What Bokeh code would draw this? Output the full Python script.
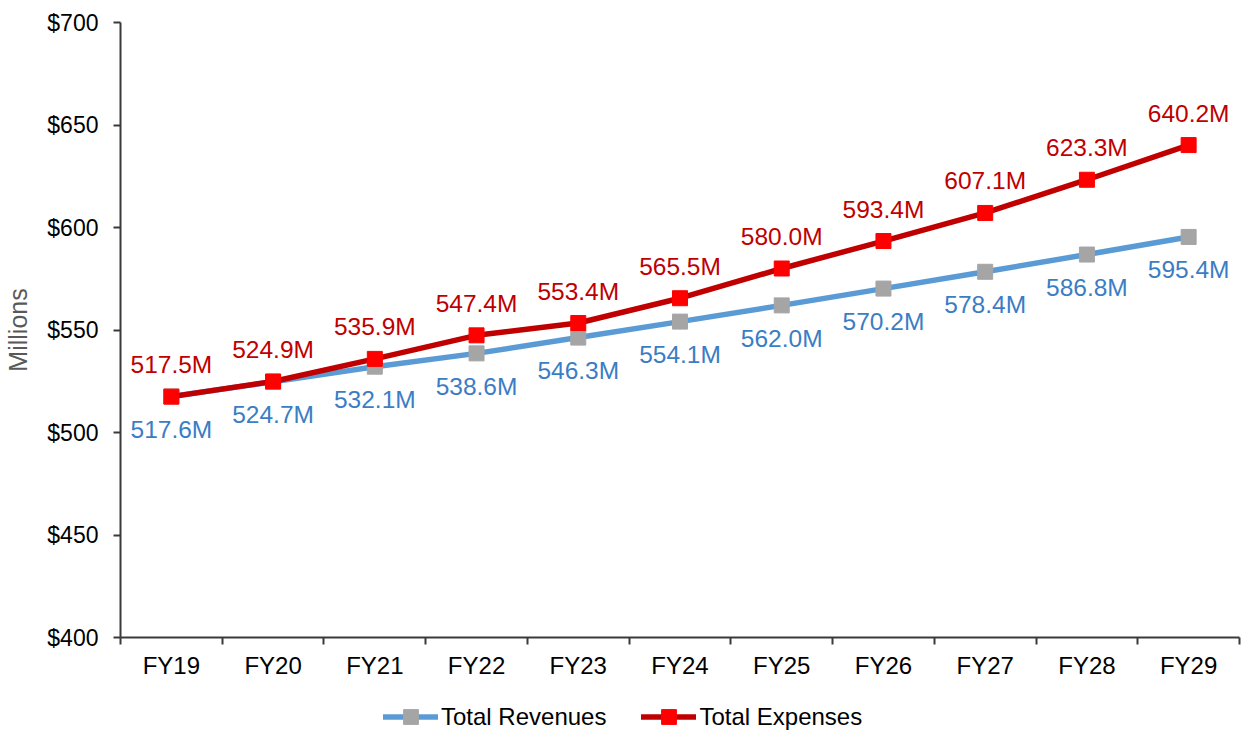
from bokeh.plotting import figure
from bokeh.layouts import column
from bokeh.models import (Range1d, FixedTicker, NumeralTickFormatter, Legend, LegendItem,
                          ColumnDataSource)
from bokeh.core.properties import value
from bokeh.embed import file_html
from bokeh.resources import INLINE

# Fiscal years and projected totals ($ millions)
years = ["FY19", "FY20", "FY21", "FY22", "FY23", "FY24", "FY25", "FY26", "FY27", "FY28", "FY29"]
revenues = [517.6, 524.7, 532.1, 538.6, 546.3, 554.1, 562.0, 570.2, 578.4, 586.8, 595.4]
expenses = [517.5, 524.9, 535.9, 547.4, 553.4, 565.5, 580.0, 593.4, 607.1, 623.3, 640.2]
y_ticks = [400, 450, 500, 550, 600, 650, 700]

FONT = "Liberation Sans"
AXIS_COLOR = "#3a3a3a"
REV_LINE, REV_MARK, REV_TEXT = "#5B9BD5", "#A5A5A5", "#3B7DC4"
EXP_LINE, EXP_MARK, EXP_TEXT = "#C00000", "#FF0000", "#C00000"

idx = list(range(len(years)))
rev_src = ColumnDataSource(dict(x=idx, y=revenues, lbl=[f"{v:.1f}M" for v in revenues]))
exp_src = ColumnDataSource(dict(x=idx, y=expenses, lbl=[f"{v:.1f}M" for v in expenses]))


def add_series(fig):
    rl = fig.line("x", "y", source=rev_src, line_color=REV_LINE, line_width=5.5, line_cap="round")
    rp = fig.scatter("x", "y", source=rev_src, marker="square", size=15,
                     fill_color=REV_MARK, line_color=REV_MARK)
    el = fig.line("x", "y", source=exp_src, line_color=EXP_LINE, line_width=5.5, line_cap="round")
    ep = fig.scatter("x", "y", source=exp_src, marker="square", size=15,
                     fill_color=EXP_MARK, line_color=EXP_MARK)
    return rl, rp, el, ep


# ---- main chart ----
p = figure(width=1243, height=685, output_backend="svg", toolbar_location=None,
           x_range=Range1d(-0.5, len(years) - 0.5), y_range=Range1d(400, 700),
           min_border_left=120, min_border_right=4, min_border_top=22, min_border_bottom=48)
p.outline_line_color = None
p.xgrid.grid_line_color = None
p.ygrid.grid_line_color = None
p.background_fill_color = "white"
p.border_fill_color = "white"

# x axis: labels at category centres, tick marks at category boundaries
xa = p.xaxis[0]
xa.ticker = FixedTicker(ticks=idx, minor_ticks=[i - 0.5 for i in range(len(years) + 1)])
xa.major_label_overrides = {i: y for i, y in enumerate(years)}
xa.major_tick_out = 0
xa.major_tick_in = 0
xa.minor_tick_out = 7
xa.minor_tick_in = 0
xa.minor_tick_line_color = AXIS_COLOR
xa.minor_tick_line_width = 2
xa.axis_line_color = AXIS_COLOR
xa.axis_line_width = 2
xa.major_label_text_font = FONT
xa.major_label_text_font_size = "24px"
xa.major_label_text_color = "black"
xa.major_label_standoff = 7

ya = p.yaxis[0]
ya.ticker = FixedTicker(ticks=y_ticks)
ya.formatter = NumeralTickFormatter(format="$0")
ya.major_tick_out = 7
ya.major_tick_in = 0
ya.minor_tick_out = 0
ya.minor_tick_in = 0
ya.major_tick_line_color = AXIS_COLOR
ya.major_tick_line_width = 2
ya.axis_line_color = AXIS_COLOR
ya.axis_line_width = 2
ya.major_label_text_font = FONT
ya.major_label_text_font_size = "23px"
ya.major_label_text_color = "black"
ya.major_label_standoff = 15
ya.axis_label = "Millions"
ya.axis_label_text_font = FONT
ya.axis_label_text_font_size = "25px"
ya.axis_label_text_font_style = "normal"
ya.axis_label_text_color = "#595959"
ya.axis_label_standoff = 12

add_series(p)

# Value labels: revenues below the points, expenses above
p.text("x", "y", text="lbl", source=rev_src, text_align="center", text_baseline="middle",
       y_offset=33, text_font=value(FONT), text_font_size="24.5px", text_color=REV_TEXT)
p.text("x", "y", text="lbl", source=exp_src, text_align="center", text_baseline="middle",
       y_offset=-32, text_font=value(FONT), text_font_size="24.5px", text_color=EXP_TEXT)

# ---- legend strip under the chart ----
# same series drawn off-range so only their legend glyphs appear
lg = figure(width=1243, height=45, output_backend="svg", toolbar_location=None,
            x_range=Range1d(100, 101), y_range=Range1d(0, 1),
            x_axis_location=None, y_axis_location=None,
            min_border_left=0, min_border_right=0, min_border_top=0, min_border_bottom=0)
lg.outline_line_color = None
lg.xgrid.grid_line_color = None
lg.ygrid.grid_line_color = None
lg.background_fill_color = "white"
lg.border_fill_color = "white"
rl, rp, el, ep = add_series(lg)

legend = Legend(items=[LegendItem(label="Total Revenues", renderers=[rl, rp]),
                       LegendItem(label="Total Expenses", renderers=[el, ep])],
                orientation="horizontal", location=(263, -5),
                glyph_width=55, glyph_height=37, label_standoff=3, spacing=35,
                padding=0, margin=0, border_line_color=None, background_fill_alpha=0,
                label_text_font=FONT, label_text_font_size="24px", label_text_color="black")
lg.add_layout(legend, "center")

layout = column(p, lg, spacing=0)
open("out.html", "w").write(file_html(layout, INLINE))
